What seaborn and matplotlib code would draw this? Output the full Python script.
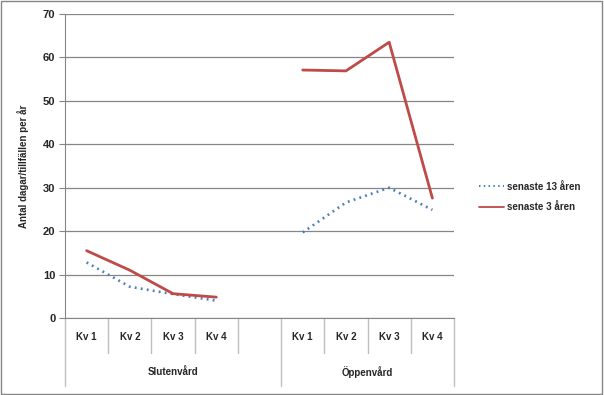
import numpy as np
import pandas as pd
import seaborn as sns
import matplotlib.pyplot as plt
import matplotlib.patches as patches
import matplotlib.transforms as mtransforms

quarters = ["Kv 1", "Kv 2", "Kv 3", "Kv 4"]
groups = ["Slutenvård", "Öppenvård"]
series_names = ["senaste 13 åren", "senaste 3 åren"]

sluten_13 = [12.8, 7.2, 5.5, 4.0]
sluten_3 = [15.5, 11.0, 5.6, 4.8]
oppen_13 = [19.7, 26.6, 30.0, 24.9]
oppen_3 = [57.1, 56.9, 63.5, 27.6]

colors = {"senaste 13 åren": "#4A7EBB", "senaste 3 åren": "#BE4B48"}

# build long table: positions 0-3 for Slutenvård, 5-8 for Öppenvård (4 is an empty slot)
rows = []
for g, offset, vals13, vals3 in [("Slutenvård", 0, sluten_13, sluten_3),
                                 ("Öppenvård", 5, oppen_13, oppen_3)]:
    for i in range(4):
        rows.append({"pos": offset + i, "value": vals13[i], "serie": series_names[0], "grupp": g})
        rows.append({"pos": offset + i, "value": vals3[i], "serie": series_names[1], "grupp": g})
df = pd.DataFrame(rows)

sns.set_style("white")
plt.rcParams["font.family"] = ["Liberation Sans", "DejaVu Sans"]

fig = plt.figure(figsize=(6.04, 3.95), dpi=100)
ax = fig.add_axes([65 / 604, 1 - 318 / 395, (454 - 65) / 604, (318 - 14) / 395])

for name in series_names:
    sub = df[df["serie"] == name]
    ls = (0, (0.7, 1.6)) if name == series_names[0] else "-"
    lw = 1.9 if name == series_names[0] else 2.0
    sns.lineplot(data=sub, x="pos", y="value", units="grupp", estimator=None,
                 color=colors[name], linestyle=ls, linewidth=lw, ax=ax, legend=False)

ax.set_xlim(-0.5, 8.5)
ax.set_ylim(0, 70)
ax.set_yticks(range(0, 71, 10))
ax.yaxis.grid(True, color="#868686", linewidth=0.9)
ax.set_axisbelow(True)
for s in ["top", "right"]:
    ax.spines[s].set_visible(False)
ax.spines["left"].set_color("#868686")
ax.spines["bottom"].set_color("#868686")
ax.set_xticks([])
ax.tick_params(axis="y", length=4, width=0.8, color="#868686", pad=3, left=True)
for t in ax.get_yticklabels():
    t.set_fontweight("bold")
    t.set_fontsize(8)
ax.set_xlabel("")
ax.set_ylabel("Antal dagar/tillfällen per år", fontsize=7, fontweight="bold", labelpad=10)

# category boxes under the axis
trans = mtransforms.blended_transform_factory(ax.transData, ax.transAxes)
row1 = -(353 - 318) / 304
row2 = -(386 - 318) / 304
for k in range(10):
    x = -0.5 + k
    bottom = row2 if k in (0, 5, 9) else row1
    ax.plot([x, x], [0, bottom], color="#BFBFBF", linewidth=1, transform=trans, clip_on=False)
labels_pos = [0, 1, 2, 3, 5, 6, 7, 8]
for p, lab in zip(labels_pos, quarters * 2):
    ax.text(p, -(337 - 318) / 304, lab, transform=trans, ha="center", va="center",
            fontsize=7, fontweight="bold")
ax.text(2.0, -(372 - 318) / 304, groups[0], transform=trans, ha="center", va="center",
        fontsize=7, fontweight="bold")
ax.text(6.5, -(372 - 318) / 304, groups[1], transform=trans, ha="center", va="center",
        fontsize=7, fontweight="bold")

handles = [plt.Line2D([], [], color=colors[series_names[0]], linestyle=(0, (0.7, 1.6)), linewidth=1.5),
           plt.Line2D([], [], color=colors[series_names[1]], linestyle="-", linewidth=1.3)]
ax.legend(handles, series_names, loc="center left", bbox_to_anchor=(470 / 604, 1 - 197 / 395),
          bbox_transform=fig.transFigure, frameon=False, handlelength=2.6,
          handletextpad=0.3, labelspacing=1.1, prop={"weight": "bold", "size": 7})

fig.patches.append(patches.Rectangle((0.002, 0.003), 0.995, 0.994, transform=fig.transFigure,
                                     fill=False, edgecolor="#868686", linewidth=1))

fig.savefig("out.png", dpi=100)
